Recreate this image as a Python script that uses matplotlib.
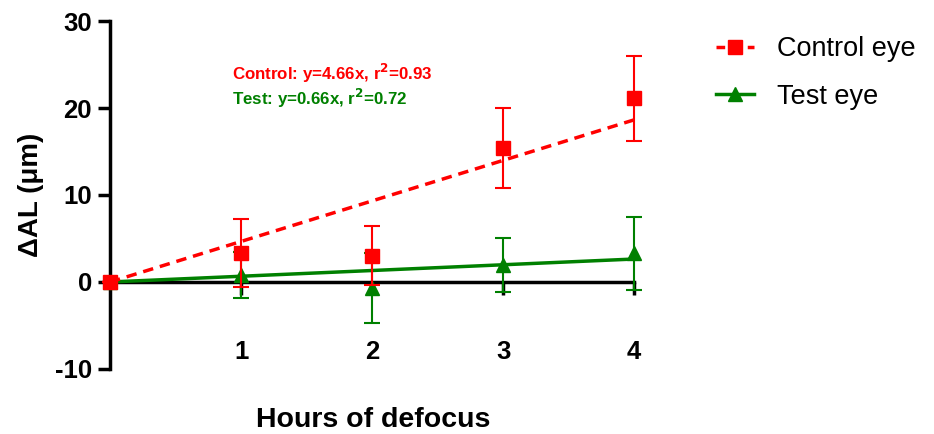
import numpy as np
import matplotlib
matplotlib.use('Agg')
import matplotlib.pyplot as plt

plt.rcParams['font.family'] = ['Liberation Sans', 'DejaVu Sans']
plt.rcParams['axes.unicode_minus'] = False

# Data
hours = [0, 1, 2, 3, 4]
control_mean = [0.0, 3.3, 3.0, 15.4, 21.1]
control_sd = [0.0, 3.9, 3.4, 4.6, 4.9]
test_mean = [0.0, 0.8, -0.7, 2.0, 3.3]
test_sd = [0.0, 2.6, 4.0, 3.1, 4.2]
control_slope = 4.66
test_slope = 0.66
x_ticks = [1, 2, 3, 4]
y_ticks = [-10, 0, 10, 20, 30]

RED = '#ff0000'
GREEN = '#008000'

fig = plt.figure(figsize=(9.34, 4.34), dpi=100)
ax = fig.add_axes([0.1178, 0.1498, 0.679 - 0.1178, 0.9516 - 0.1498])

xfit = np.array([0, 4])

# fit lines
ax.plot(xfit, test_slope * xfit, color=GREEN, lw=2.5, zorder=3)
ax.plot(xfit, control_slope * xfit, color=RED, lw=2.5, ls=(0, (3, 2)), zorder=3)

# error bars + markers
ax.errorbar(hours, test_mean, yerr=test_sd, fmt='^', color=GREEN, ms=10,
            ecolor=GREEN, elinewidth=1.5, capsize=6, capthick=1.5, zorder=4)
ax.errorbar(hours, control_mean, yerr=control_sd, fmt='s', color=RED, ms=10,
            ecolor=RED, elinewidth=1.5, capsize=6, capthick=1.5, zorder=5)

# legend handles
h_ctrl, = ax.plot([], [], color=RED, lw=2.5, ls=(0, (2.5, 2)), marker='s', ms=10)
h_test, = ax.plot([], [], color=GREEN, lw=2.5, marker='^', ms=10)
fig.legend([h_ctrl, h_test], ['Control eye', 'Test eye'], loc='upper left',
           bbox_to_anchor=(0.741, 0.973), frameon=False, fontsize=19.5,
           handlelength=1.4, labelspacing=0.8, handletextpad=0.85)

ax.text(0.93, 24.0, 'Control: y=4.66x, r$^{\\mathbf{2}}$=0.93', color=RED,
        fontsize=12.2, fontweight='bold', va='center')
ax.text(0.93, 21.1, 'Test: y=0.66x, r$^{\\mathbf{2}}$=0.72', color=GREEN,
        fontsize=12.2, fontweight='bold', va='center')

ax.set_xlim(0, 4)
ax.set_ylim(-10, 30)
ax.set_xticks(x_ticks)
ax.set_yticks(y_ticks)

for s in ['top', 'right']:
    ax.spines[s].set_visible(False)
ax.spines['bottom'].set_position(('data', 0))
ax.spines['left'].set_linewidth(2.5)
ax.spines['bottom'].set_linewidth(2.5)
ax.spines['bottom'].set_zorder(2)
ax.tick_params(axis='y', direction='out', length=9, width=2.5, labelsize=18.5, pad=4)
ax.tick_params(axis='x', direction='out', length=9, width=2.5, labelsize=18.5, pad=33)
for lab in ax.get_xticklabels() + ax.get_yticklabels():
    lab.set_fontweight('bold')

ax.set_ylabel('ΔAL (μm)', fontsize=20, fontweight='bold', labelpad=8)
fig.text(0.400, 0.032, 'Hours of defocus', fontsize=20.5, fontweight='bold',
         ha='center', va='center')
for art in ax.lines:
    art.set_clip_on(False)
for c in ax.collections:
    c.set_clip_on(False)

fig.savefig('out.png', dpi=100)
